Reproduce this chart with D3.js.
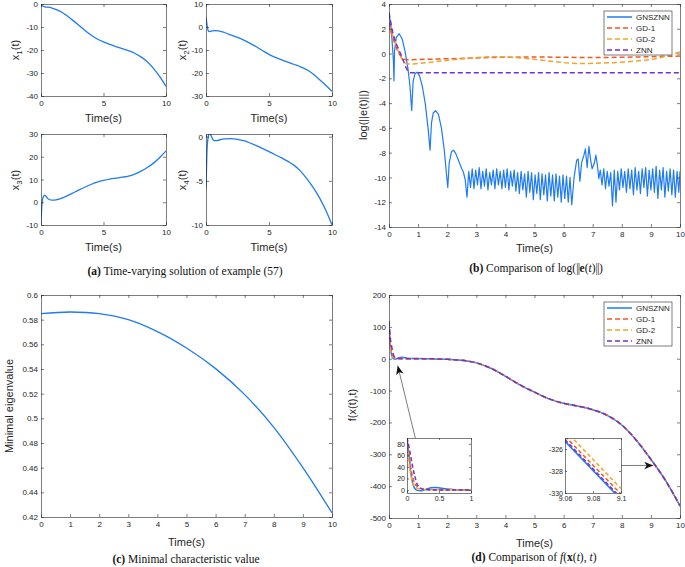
<!DOCTYPE html>
<html lang="en">
<head>
<meta charset="UTF-8">
<title>GNSZNN results</title>
<script src="https://cdn.jsdelivr.net/npm/d3@7"></script>
<style>
body { margin: 0; background: #fff; }
</style>
</head>
<body>
<script>
let width = 685;
let height = 567;
let ink = '#262626';
let sans = 'Liberation Sans, Arial, sans-serif';
let serif = 'Liberation Serif, Times New Roman, serif';

let methods = ['GNSZNN', 'GD-1', 'GD-2', 'ZNN'];
let colors = ['#1f7bf2', '#ec5a2c', '#f3a42a', '#7a2fc9'];

let ticks0to10 = [0, 1, 2, 3, 4, 5, 6, 7, 8, 9, 10];
let ticksHalf = [0, 5, 10];

// (a) solution components, [t, value]
let x1Data = [[0, 0], [0.1, -0.8], [0.3, -1.2], [0.6, -1.4], [1, -2], [1.5, -3.1], [2, -4.8], [2.5, -6.9], [3, -9.1],
  [3.5, -11.4], [4, -13.5], [4.5, -15.2], [5, -16.5], [5.5, -17.6], [6, -18.5], [6.5, -19.4], [7, -20.3],
  [7.5, -21.4], [8, -23], [8.5, -25.1], [9, -28], [9.5, -31.6], [10, -35.8]];
let x2Data = [[0, 4.2], [0.08, 1], [0.15, -1.2], [0.25, -2], [0.4, -1.8], [0.7, -1.6], [1, -1.7], [1.5, -2.5],
  [2, -3.5], [2.5, -4.5], [3, -5.7], [3.5, -7.1], [4, -8.6], [4.5, -10.3], [5, -11.9], [5.5, -13.2], [6, -14.3],
  [6.5, -15.3], [7, -16.3], [7.5, -17.3], [8, -18.6], [8.5, -20.4], [9, -22.8], [9.5, -25.3], [10, -28]];
let x3Data = [[0, -8.5], [0.05, -3], [0.1, 0.5], [0.2, 2.6], [0.3, 3], [0.4, 2.6], [0.55, 1.6], [0.7, 1.1],
  [0.9, 0.9], [1.2, 1], [1.5, 1.5], [2, 2.6], [2.5, 3.9], [3, 5.3], [3.5, 6.6], [4, 7.8], [4.5, 8.8], [5, 9.6],
  [5.5, 10.2], [6, 10.6], [6.5, 11], [7, 11.5], [7.5, 12.4], [8, 13.7], [8.5, 15.3], [9, 17.2], [9.5, 19.7], [10, 22.6]];
let x4Data = [[0, -5.9], [0.05, -3], [0.1, -1], [0.18, 0], [0.28, 0.35], [0.38, 0.2], [0.5, -0.2], [0.65, -0.45],
  [0.85, -0.45], [1.1, -0.35], [1.5, -0.25], [2, -0.22], [2.5, -0.3], [3, -0.46], [3.5, -0.72], [4, -1.02],
  [4.5, -1.35], [5, -1.7], [5.5, -2.05], [6, -2.4], [6.5, -2.8], [7, -3.25], [7.5, -3.9], [8, -4.75], [8.5, -5.75],
  [9, -6.9], [9.5, -8.3], [10, -10]];

// (b) log error
let errHead = [[0, 3.1], [0.05, 2.6], [0.1, 1.2], [0.15, -0.5], [0.17, -2.2], [0.19, 0.2], [0.25, 1.3], [0.35, 1.6],
  [0.45, 1.2], [0.55, 0.2], [0.65, -1.2], [0.72, -2.6], [0.78, -4.6], [0.83, -2.2], [0.9, -1.6], [0.97, -1.5],
  [1.05, -1.8], [1.15, -2.7], [1.25, -4.1], [1.35, -6.2], [1.41, -7.8], [1.46, -5.6], [1.52, -4.8], [1.6, -4.6],
  [1.7, -4.9], [1.8, -6.0], [1.9, -7.8], [1.97, -9.6], [2.02, -10.8], [2.07, -8.8], [2.15, -7.9], [2.22, -7.8],
  [2.3, -8.1], [2.4, -8.7], [2.5, -9.3]];
// sampled every 0.06 s from t = 2.56
let errNoiseA = [-9.6, -10.2, -11.6, -9.5, -10.8, -9.3, -10.9, -9.4, -10.6, -9.2,
  -10.9, -9.5, -10.7, -9.3, -11.0, -9.6, -10.6, -9.4, -10.9, -9.3,
  -10.6, -9.5, -10.9, -9.4, -10.8, -9.3, -11.0, -9.5, -10.7, -9.4,
  -11.1, -9.6, -11.3, -9.5, -11.0, -9.7, -11.6, -9.5, -11.2, -9.6,
  -11.8, -9.8, -11.3, -9.6, -11.8, -9.7, -11.4, -9.8, -11.9, -9.6,
  -11.5, -9.8, -11.9, -9.7, -11.6, -9.9, -12.0, -9.8, -11.7, -9.9,
  -12.0, -10.0];
let errBurst = [[6.28, -12.2], [6.36, -10.0], [6.45, -8.6], [6.5, -8.5], [6.56, -10.3], [6.62, -8.8], [6.7, -8.2],
  [6.75, -7.7], [6.81, -9.2], [6.87, -7.5], [6.93, -8.6], [6.98, -9.3], [7.05, -8.9], [7.11, -8.2], [7.16, -9.0],
  [7.21, -10.1]];
// sampled every 0.06 s from t = 7.26
let errNoiseB = [-9.4, -10.6, -9.3, -10.9, -9.5, -10.7, -9.6, -12.3, -9.4, -12.0,
  -9.5, -11.0, -9.3, -10.8, -9.5, -11.2, -9.3, -10.9, -9.4, -11.4,
  -9.2, -11.0, -9.5, -11.3, -9.3, -10.8, -9.2, -11.5, -9.4, -11.0,
  -9.3, -11.2, -9.1, -11.7, -9.4, -11.0, -9.2, -11.6, -9.5, -11.1,
  -9.3, -11.4, -9.4, -11.6, -9.5, -11.2];
let errEnd = [[10, -9.5]];
let errGD1 = [[0, 2.5], [0.1, 1.5], [0.2, 0.8], [0.3, 0.2], [0.4, -0.2], [0.5, -0.45], [0.7, -0.5], [1, -0.48],
  [2, -0.42], [3, -0.35], [4, -0.3], [5, -0.28], [6, -0.3], [7, -0.32], [8, -0.3], [9, -0.25], [10, -0.2]];
let errGD2 = [[0, 2.2], [0.2, 1.0], [0.35, 0], [0.5, -0.6], [0.65, -0.85], [1, -0.8], [2, -0.55], [3, -0.32],
  [3.7, -0.25], [4.5, -0.35], [5.5, -0.6], [6.5, -0.8], [7.5, -0.75], [8.5, -0.6], [9.2, -0.4], [9.6, -0.15], [10, 0.12]];
let errZNN = [[0, 3.3], [0.15, 1.5], [0.3, 0.5], [0.45, -0.3], [0.6, -1.2], [0.75, -1.55], [1, -1.55], [10, -1.55]];

// (c) minimal eigenvalue
let eigData = [[0, 0.5849], [1, 0.5862], [2, 0.5849], [3, 0.58], [4, 0.5703], [5, 0.557], [6, 0.5403],
  [7, 0.5192], [8, 0.4927], [9, 0.46], [10, 0.4233]];

// (d) objective value
let fStartGNSZNN = [[0, 88], [0.03, 60], [0.06, 30], [0.1, 8], [0.15, 0], [0.22, -1], [0.3, 1.5], [0.38, 4],
  [0.44, 4.6], [0.52, 3.5], [0.62, 1.8], [0.75, 0.8], [1, 0.3]];
let fStartGD1 = [[0, 88], [0.05, 45], [0.1, 18], [0.15, 7], [0.2, 3], [0.3, 1], [0.5, 0.3], [1, 0.2]];
let fStartGD2 = [[0, 80], [0.04, 40], [0.08, 16], [0.12, 6], [0.2, 2], [0.3, 0.8], [1, 0.3]];
let fStartZNN = [[0, 90], [0.04, 70], [0.08, 45], [0.12, 25], [0.16, 10], [0.22, 3], [0.3, 1], [0.5, 0.2], [1, 0]];
let fMainStart = [115, 115, 110, 118];
let fTail = [[1.5, -0.5], [2, -2], [2.5, -5], [3, -13], [3.5, -30], [4, -55], [4.5, -82], [5, -105], [5.5, -126],
  [6, -140], [6.5, -149], [7, -160], [7.5, -178], [8, -208], [8.5, -256], [9, -316], [9.5, -382], [10, -462]];
let fZoomGNSZNN = [[9.06, -325.3], [9.1, -330.6]];
let fZoomGD1 = [[9.06, -324.85], [9.1, -330.1]];
let fZoomGD2 = [[9.06, -324.3], [9.1, -329.6]];
let fZoomZNN = [[9.06, -325.15], [9.1, -330.45]];

let svg = d3.select('body').append('svg')
  .attr('width', width)
  .attr('height', height)
  .style('background', '#fff');

let clipCount = 0;

function panel(box, xDomain, yDomain, xTicks, yTicks, opt) {
  opt = opt || {};
  let g = svg.append('g').attr('transform', 'translate(' + box.l + ',' + box.t + ')');
  let x = d3.scaleLinear().domain(xDomain).range([0, box.w]);
  let y = d3.scaleLinear().domain(yDomain).range([box.h, 0]);
  let tk = opt.tick || 3;
  g.append('rect').attr('width', box.w).attr('height', box.h).attr('fill', '#fff');
  let id = 'clip' + (clipCount++);
  g.append('clipPath').attr('id', id).append('rect').attr('width', box.w).attr('height', box.h);
  let plot = g.append('g').attr('clip-path', 'url(#' + id + ')');
  let axes = [
    [d3.axisBottom(x).tickValues(xTicks), 'translate(0,' + box.h + ')', true, opt.padX || 4],
    [d3.axisTop(x).tickValues(xTicks), null, false, 0],
    [d3.axisLeft(y).tickValues(yTicks), null, true, opt.padY || 3],
    [d3.axisRight(y).tickValues(yTicks), 'translate(' + box.w + ',0)', false, 0]
  ];
  axes.forEach(function (a) {
    a[0].tickSizeInner(-tk).tickSizeOuter(0).tickPadding(a[3])
      .tickFormat(a[2] ? function (d) { return String(d); } : '');
    let ag = g.append('g').attr('transform', a[1]).call(a[0]);
    ag.attr('font-family', sans).attr('font-size', opt.fontSize || 8);
    ag.selectAll('path, line').attr('stroke', ink).attr('stroke-width', 0.6);
    ag.selectAll('text').attr('fill', ink);
  });
  return { g: g, plot: plot, x: x, y: y, box: box };
}

function drawLine(p, data, color, opt) {
  opt = opt || {};
  let line = d3.line()
    .x(function (d) { return p.x(d[0]); })
    .y(function (d) { return p.y(d[1]); })
    .curve(opt.curve || d3.curveLinear);
  p.plot.append('path')
    .datum(data)
    .attr('d', line)
    .attr('fill', 'none')
    .attr('stroke', color)
    .attr('stroke-width', opt.w || 1.3)
    .attr('stroke-linejoin', 'round')
    .attr('stroke-dasharray', opt.dash || null);
}

function xTitle(p, cy) {
  svg.append('text')
    .attr('x', p.box.l + p.box.w / 2)
    .attr('y', cy)
    .attr('text-anchor', 'middle')
    .attr('dominant-baseline', 'central')
    .attr('font-family', sans)
    .attr('font-size', 11)
    .attr('fill', ink)
    .text('Time(s)');
}

function yTitle(cx, cy, parts) {
  let t = svg.append('text')
    .attr('transform', 'translate(' + cx + ',' + cy + ') rotate(-90)')
    .attr('text-anchor', 'middle')
    .attr('dominant-baseline', 'central')
    .attr('font-family', sans)
    .attr('font-size', 11)
    .attr('fill', ink);
  parts.forEach(function (s) {
    let ts = t.append('tspan').text(s[0]);
    if (s[1] === 'sub') ts.attr('font-size', 8).attr('baseline-shift', 'sub');
  });
}

function caption(cx, cy, parts) {
  let t = svg.append('text')
    .attr('x', cx)
    .attr('y', cy)
    .attr('text-anchor', 'middle')
    .attr('dominant-baseline', 'central')
    .attr('font-family', serif)
    .attr('font-size', 11.5)
    .attr('fill', '#111');
  parts.forEach(function (s) {
    let ts = t.append('tspan').text(s[0]);
    if (s[1] === 'b') ts.attr('font-weight', 'bold');
    if (s[1] === 'i') ts.attr('font-style', 'italic');
    if (s[1] === 'bars') ts.attr('letter-spacing', -0.6);
  });
}

function legend(x0, y0) {
  let g = svg.append('g').attr('transform', 'translate(' + x0 + ',' + y0 + ')');
  g.append('rect').attr('width', 68).attr('height', 44)
    .attr('fill', '#fff').attr('stroke', ink).attr('stroke-width', 0.6);
  methods.forEach(function (m, i) {
    let yy = 6 + i * 11;
    g.append('line').attr('x1', 3).attr('x2', 28).attr('y1', yy).attr('y2', yy)
      .attr('stroke', colors[i]).attr('stroke-width', 1.5)
      .attr('stroke-dasharray', i === 0 ? null : '5,3');
    g.append('text').attr('x', 32).attr('y', yy).attr('dominant-baseline', 'central')
      .attr('font-family', sans).attr('font-size', 8).attr('fill', ink).text(m);
  });
}

let dash = '5,3';

// ---- (a) ----
let pa1 = panel({ l: 41, t: 4, w: 125, h: 92 }, [0, 10], [-40, 0], ticksHalf, [-40, -30, -20, -10, 0]);
drawLine(pa1, x1Data, colors[0], { curve: d3.curveMonotoneX });
let pa2 = panel({ l: 206, t: 4, w: 126, h: 92 }, [0, 10], [-30, 10], ticksHalf, [-30, -20, -10, 0, 10]);
drawLine(pa2, x2Data, colors[0], { curve: d3.curveMonotoneX });
let pa3 = panel({ l: 41, t: 134, w: 125, h: 91 }, [0, 10], [-10, 30], ticksHalf, [-10, 0, 10, 20, 30]);
drawLine(pa3, x3Data, colors[0], { curve: d3.curveMonotoneX });
let pa4 = panel({ l: 206, t: 134, w: 126, h: 91 }, [0, 10], [-10, 0.3], ticksHalf, [-10, -5, 0]);
drawLine(pa4, x4Data, colors[0], { curve: d3.curveMonotoneX });

[pa1, pa2].forEach(function (p) { xTitle(p, 118); });
[pa3, pa4].forEach(function (p) { xTitle(p, 247); });
yTitle(15, 50, [['x'], ['1', 'sub'], ['(t)']]);
yTitle(182, 50, [['x'], ['2', 'sub'], ['(t)']]);
yTitle(15, 180, [['x'], ['3', 'sub'], ['(t)']]);
yTitle(182, 180, [['x'], ['4', 'sub'], ['(t)']]);
caption(185, 271, [['(a)', 'b'], [' Time-varying solution of example (57)']]);

// ---- (b) ----
let pb = panel({ l: 389, t: 4, w: 291, h: 223 }, [0, 10], [-14, 4], ticks0to10,
  [-14, -12, -10, -8, -6, -4, -2, 0, 2, 4]);
let errGNSZNN = errHead
  .concat(errNoiseA.map(function (v, i) { return [2.56 + i * 0.06, v]; }))
  .concat(errBurst)
  .concat(errNoiseB.map(function (v, i) { return [7.26 + i * 0.06, v]; }))
  .concat(errEnd);
drawLine(pb, errGNSZNN, colors[0], { w: 1.2 });
drawLine(pb, errGD1, colors[1], { w: 1.5, dash: dash, curve: d3.curveMonotoneX });
drawLine(pb, errGD2, colors[2], { w: 1.5, dash: dash, curve: d3.curveMonotoneX });
drawLine(pb, errZNN, colors[3], { w: 1.5, dash: dash, curve: d3.curveMonotoneX });
legend(604, 11);
xTitle(pb, 248);
yTitle(363, 115, [['log(||e(t)||)']]);
caption(536, 268, [['(b)', 'b'], [' Comparison of log('], ['||', 'bars'], ['e', 'b'], ['('], ['t', 'i'], [')'],
  ['||', 'bars'], [')']]);

// ---- (c) ----
let pc = panel({ l: 41, t: 295, w: 291, h: 222 }, [0, 10], [0.42, 0.6], ticks0to10,
  [0.42, 0.44, 0.46, 0.48, 0.5, 0.52, 0.54, 0.56, 0.58, 0.6]);
drawLine(pc, eigData, colors[0], { curve: d3.curveCatmullRom });
xTitle(pc, 542);
yTitle(9, 406, [['Minimal eigenvalue']]);
caption(186, 559, [['(c)', 'b'], [' Minimal characteristic value']]);

// ---- (d) ----
let pd = panel({ l: 389, t: 295, w: 291, h: 223 }, [0, 10], [-500, 200], ticks0to10,
  [-500, -400, -300, -200, -100, 0, 100, 200]);
let fStarts = [fStartGNSZNN, fStartGD1, fStartGD2, fStartZNN];
let fZooms = [fZoomGNSZNN, fZoomGD1, fZoomGD2, fZoomZNN];
fStarts.forEach(function (s, i) {
  let series = [[0, fMainStart[i]]].concat(s.slice(1)).concat(fTail);
  drawLine(pd, series, colors[i], { w: 1.5, dash: i === 0 ? null : dash, curve: d3.curveMonotoneX });
});
legend(604, 302);
xTitle(pd, 543);
yTitle(352, 405, [['f(x(t),t)']]);
caption(534, 557, [['(d)', 'b'], [' Comparison of '], ['f', 'i'], ['('], ['x', 'b'], ['('], ['t', 'i'], ['), '],
  ['t', 'i'], [')']]);

// insets
let pi1 = panel({ l: 407, t: 438, w: 64, h: 55 }, [0, 1], [-5, 90], [0, 0.5, 1], [0, 20, 40, 60, 80],
  { tick: 2, fontSize: 7, padX: 3, padY: 2 });
fStarts.forEach(function (s, i) {
  drawLine(pi1, s, colors[i], { w: 1.5, dash: i === 0 ? null : '4,2.5', curve: d3.curveMonotoneX });
});
let pi2 = panel({ l: 565, t: 438, w: 56, h: 55 }, [9.06, 9.1], [-330, -325], [9.06, 9.08, 9.1], [-330, -328, -326],
  { tick: 2, fontSize: 7, padX: 3, padY: 2 });
fZooms.forEach(function (s, i) {
  drawLine(pi2, s, colors[i], { w: 1.5, dash: i === 0 ? null : '4,2.5' });
});

// arrows
let defs = svg.append('defs');
defs.append('marker')
  .attr('id', 'head')
  .attr('viewBox', '-10 -5 12 10')
  .attr('markerWidth', 12)
  .attr('markerHeight', 10)
  .attr('markerUnits', 'userSpaceOnUse')
  .attr('orient', 'auto')
  .append('path')
  .attr('d', 'M0,0L-9,-3.8L-6.5,0L-9,3.8Z')
  .attr('fill', '#111');

function arrow(x1, y1, x2, y2) {
  svg.append('line')
    .attr('x1', x1).attr('y1', y1).attr('x2', x2).attr('y2', y2)
    .attr('stroke', '#444').attr('stroke-width', 0.7)
    .attr('marker-end', 'url(#head)');
}
arrow(pi1.box.l + pi1.x(0.13), pi1.box.t, pd.box.l + pd.x(0.3), pd.box.t + pd.y(-22));
arrow(pi2.box.l + pi2.box.w, pi2.box.t + pi2.y(-327.5), pd.box.l + pd.x(9.08), pd.box.t + pd.y(-335));
</script>
</body>
</html>
